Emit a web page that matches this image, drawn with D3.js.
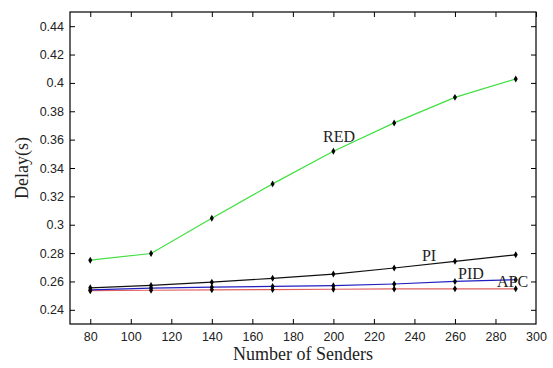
<!DOCTYPE html>
<html>
<head>
<meta charset="utf-8">
<script src="https://cdn.jsdelivr.net/npm/d3@7"></script>
<style>
body { margin: 0; background: #fff; }
.tick text { font-family: "Liberation Sans", Arial, sans-serif; font-size: 12.5px; fill: #222; }
.lbl { font-family: "Liberation Serif", "Times New Roman", serif; font-size: 16px; fill: #222; }
.title { font-family: "Liberation Serif", "Times New Roman", serif; font-size: 18px; fill: #222; }
</style>
</head>
<body>
<div id="chart"></div>
<script>
var senders = [80, 110, 140, 170, 200, 230, 260, 290];
var red = [0.275, 0.2797, 0.3045, 0.3288, 0.3518, 0.3718, 0.3898, 0.4028];
var pi  = [0.2555, 0.2572, 0.2595, 0.2622, 0.2652, 0.2695, 0.2742, 0.2788];
var pid = [0.2540, 0.2553, 0.2560, 0.2565, 0.2570, 0.2582, 0.2600, 0.2612];
var apc = [0.2535, 0.2538, 0.2541, 0.2543, 0.2545, 0.2547, 0.2548, 0.2548];
var xTicks = [80, 100, 120, 140, 160, 180, 200, 220, 240, 260, 280, 300];
var yTicks = [0.24, 0.26, 0.28, 0.3, 0.32, 0.34, 0.36, 0.38, 0.4, 0.42, 0.44];

var series = [
    {name: "APC", values: apc, color: "#e06060"},
    {name: "PID", values: pid, color: "#2020c0"},
    {name: "PI", values: pi, color: "#111"},
    {name: "RED", values: red, color: "#40e040"}
];

var W = 553, H = 368;
var m = {left: 70, right: 17, top: 12, bottom: 44};

var svg = d3.select('#chart').append('svg')
    .attr("width", W).attr("height", H);

var x = d3.scaleLinear().domain([70, 300]).range([m.left, W - m.right]);
var y = d3.scaleLinear().domain([0.23, 0.45]).range([H - m.bottom, m.top]);

// frame
svg.append("rect")
    .attr("x", m.left).attr("y", m.top)
    .attr("width", W - m.right - m.left).attr("height", H - m.bottom - m.top)
    .attr("fill", "none").attr("stroke", "#000").attr("stroke-width", 1.2);

var fmt = d => String(d);

var gx = svg.append("g").attr("transform", "translate(0," + (H - m.bottom) + ")")
    .call(d3.axisBottom(x).tickValues(xTicks).tickSize(-5).tickPadding(8).tickFormat(fmt));
svg.append("g").attr("transform", "translate(0," + m.top + ")")
    .call(d3.axisTop(x).tickValues(xTicks).tickSize(-5).tickFormat(""));
var gy = svg.append("g").attr("transform", "translate(" + m.left + ",0)")
    .call(d3.axisLeft(y).tickValues(yTicks).tickSize(-5).tickPadding(6).tickFormat(fmt));
svg.append("g").attr("transform", "translate(" + (W - m.right) + ",0)")
    .call(d3.axisRight(y).tickValues(yTicks).tickSize(-5).tickFormat(""));

svg.selectAll(".domain").remove();
svg.selectAll(".tick line").attr("stroke", "#000");
// the 300 tick sits on the frame
gx.selectAll(".tick line").filter(d => d === 300).remove();

var line = d3.line().x((d, i) => x(senders[i])).y(d => y(d));

series.forEach(s => {
    svg.append("path")
        .datum(s.values)
        .attr("d", line)
        .attr("fill", "none")
        .attr("stroke", s.color)
        .attr("stroke-width", 1.2);
});

series.forEach(s => {
    svg.append("g").selectAll("path")
        .data(s.values)
        .enter().append("path")
        .attr("d", d3.symbol().type(d3.symbolDiamond).size(14))
        .attr("transform", (d, i) => "translate(" + x(senders[i]) + "," + y(d) + ")")
        .attr("fill", "#000");
});

// curve labels (placed in data coordinates)
var labels = [
    {text: "RED", sx: 202.8, v: 0.3583},
    {text: "PI", sx: 247.2, v: 0.2746},
    {text: "PID", sx: 267.9, v: 0.2615},
    {text: "APC", sx: 288.4, v: 0.2563}
];
svg.selectAll(".curve").data(labels).enter().append("text")
    .attr("class", "lbl")
    .attr("x", d => x(d.sx))
    .attr("y", d => y(d.v))
    .attr("text-anchor", "middle")
    .text(d => d.text);

svg.append("text").attr("class", "title")
    .attr("x", (m.left + W - m.right) / 2).attr("y", H - 8)
    .attr("text-anchor", "middle")
    .text("Number of Senders");

svg.append("text").attr("class", "title")
    .attr("transform", "translate(28," + ((m.top + H - m.bottom) / 2) + ") rotate(-90)")
    .attr("text-anchor", "middle")
    .text("Delay(s)");
</script>
</body>
</html>
